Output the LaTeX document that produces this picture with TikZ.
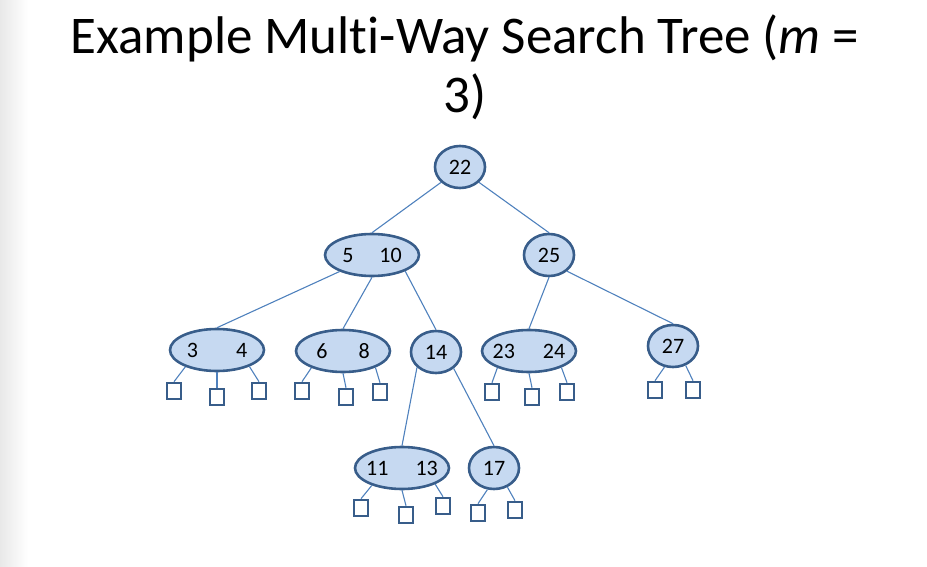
\documentclass[tikz,border=0pt]{standalone}
\usepackage{fontspec}
\setmainfont{Carlito}[Ligatures=NoCommon]
\usepackage{tikz}
\usetikzlibrary{shapes.geometric}
\definecolor{keyfill}{RGB}{198,217,241}
\definecolor{keyline}{RGB}{56,93,138}
\definecolor{edgeline}{RGB}{79,129,189}
\tikzstyle{onekey} = [ellipse, minimum width=50pt, minimum height=42pt, inner sep=0pt, fill=keyfill, draw=keyline, line width=2.6pt, font=\fontsize{22}{26}\selectfont]
\tikzstyle{twokey} = [onekey, minimum width=94pt]
\tikzstyle{leaf} = [rectangle, node distance=41pt, minimum width=14pt, minimum height=16pt, inner sep=0pt, fill=white, draw=keyline, line width=2.6pt]
\tikzstyle{edge} = [draw=edgeline, line width=1.1pt]
\newcommand{\keypair}[3][29pt]{\makebox[40pt]{#2\hspace{#1}#3}}

\begin{document}
\begin{tikzpicture}[node distance=88pt]
  \useasboundingbox (0,0) rectangle (927pt,-567pt);
  \shade [left color=black!9, right color=white] (0,0) rectangle (28pt,-567pt);
  %title
  \node (title) [font=\fontsize{53}{59}\selectfont, align=center, inner sep=0pt, anchor=north] at (465pt,-15pt) {Example Multi-Way Search Tree ({\itshape m} =\\3)};

  %keys
  \node (n22) [onekey] at (460pt,-167pt) {22};
  \node (n510) [twokey, below of=n22, xshift=-88pt] {\keypair[26pt]{5}{10}};
  \node (n25) [onekey, below of=n22, xshift=89pt] {25};
  \node (n34) [twokey, below of=n510, xshift=-155pt, yshift=-7pt] {\keypair[38pt]{3}{4}};
  \node (n68) [twokey, below of=n510, xshift=-29pt, yshift=-8pt] {\keypair[31pt]{6}{8}};
  \node (n14) [onekey, below of=n510, xshift=64pt, yshift=-9pt] {14};
  \node (n2324) [twokey, below of=n25, xshift=-20pt, yshift=-8pt] {\keypair[28pt]{23}{24}};
  \node (n27) [onekey, below of=n25, xshift=124pt, yshift=-3pt] {27};
  \node (n1113) [twokey, below of=n14, xshift=-34pt, yshift=-28pt] {\keypair[27pt]{11}{13}};
  \node (n17) [onekey, below of=n14, xshift=58pt, yshift=-28pt] {17};

  %empty subtrees
  \node (l34a) [leaf, below of=n34, xshift=-43pt] {};
  \node (l34b) [leaf, below of=n34, yshift=-6pt] {};
  \node (l34c) [leaf, below of=n34, xshift=42pt] {};
  \node (l68a) [leaf, below of=n68, xshift=-41pt, yshift=1pt] {};
  \node (l68b) [leaf, below of=n68, xshift=3pt, yshift=-5pt] {};
  \node (l68c) [leaf, below of=n68, xshift=37pt] {};
  \node (l2324a) [leaf, below of=n2324, xshift=-37pt] {};
  \node (l2324b) [leaf, below of=n2324, xshift=3pt, yshift=-5pt] {};
  \node (l2324c) [leaf, below of=n2324, xshift=38pt] {};
  \node (l27a) [leaf, below of=n27, xshift=-18pt, yshift=-3pt] {};
  \node (l27b) [leaf, below of=n27, xshift=20pt, yshift=-3pt] {};
  \node (l1113a) [leaf, below of=n1113, xshift=-41pt, yshift=1pt] {};
  \node (l1113b) [leaf, below of=n1113, xshift=4pt, yshift=-6pt] {};
  \node (l1113c) [leaf, below of=n1113, xshift=41pt, yshift=3pt] {};
  \node (l17a) [leaf, below of=n17, xshift=-16pt, yshift=-4pt] {};
  \node (l17b) [leaf, below of=n17, xshift=21pt, yshift=-1pt] {};

  %links between keys
  \draw [edge](n22.-141) -- (n510.north);
  \draw [edge](n22.-39) -- (n25.north);
  \draw [edge](n510.-153) -- (n34.north);
  \draw [edge](n510.south) -- (n68.north);
  \draw [edge](n510.-26) -- (n14.north);
  \draw [edge](n25.south) -- (n2324.north);
  \draw [edge](n25.-42) -- (n27.north);
  \draw [edge](n14.-141) -- (n1113.north);
  \draw [edge](n14.-43) -- (n17.north);

  %links to empty subtrees
  \draw [edge](n34.-152) -- (l34a.north);
  \draw [edge](n34.south) -- (l34b.north);
  \draw [edge](n34.-27) -- (l34c.north);
  \draw [edge](n68.-152) -- (l68a.north);
  \draw [edge](n68.south) -- (l68b.north);
  \draw [edge](n68.-27) -- (l68c.north);
  \draw [edge](n2324.-152) -- (l2324a.north);
  \draw [edge](n2324.south) -- (l2324b.north);
  \draw [edge](n2324.-27) -- (l2324c.north);
  \draw [edge](n27.-112) -- (l27a.north);
  \draw [edge](n27.-57) -- (l27b.north);
  \draw [edge](n1113.-150) -- (l1113a.north);
  \draw [edge](n1113.south) -- (l1113b.north);
  \draw [edge](n1113.-26) -- (l1113c.north);
  \draw [edge](n17.-107) -- (l17a.north);
  \draw [edge](n17.-55) -- (l17b.north);
\end{tikzpicture}
\end{document}
